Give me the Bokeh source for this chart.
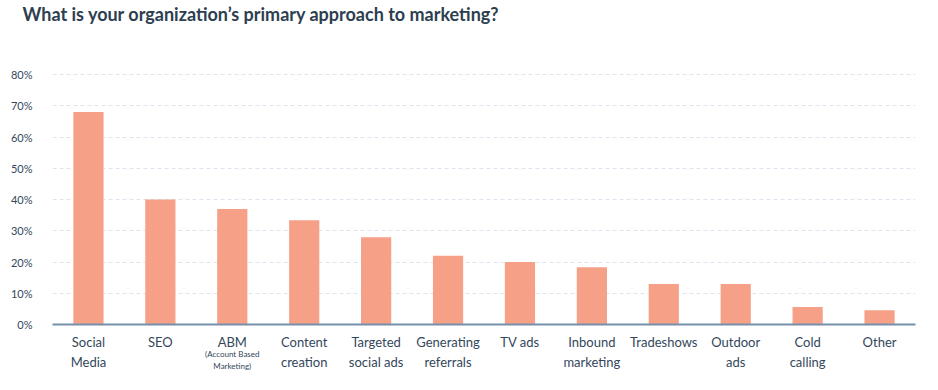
from bokeh.plotting import figure
from bokeh.models import (FixedTicker, NumeralTickFormatter, CategoricalAxis, ColumnDataSource,
                          FactorRange, CustomJSTickFormatter, Title)
from bokeh.embed import file_html
from bokeh.resources import INLINE

# ---- data ----
categories = ["Social\nMedia", "SEO", "ABM", "Content\ncreation", "Targeted\nsocial ads",
              "Generating\nreferrals", "TV ads", "Inbound\nmarketing", "Tradeshows",
              "Outdoor\nads", "Cold\ncalling", "Other"]
values = [0.68, 0.40, 0.37, 0.334, 0.279, 0.22, 0.20, 0.183, 0.13, 0.13, 0.056, 0.046]
y_ticks = [0, 0.1, 0.2, 0.3, 0.4, 0.5, 0.6, 0.7, 0.8]
notes = ["", "", "(Account Based\nMarketing)", "", "", "", "", "", "", "", "", ""]
title_text = "What is your organization\u2019s primary approach to marketing?"

FONT = "Lato"
TEXT = "#33475b"

src = ColumnDataSource(dict(cat=categories, val=values))

p = figure(width=922, height=374, x_range=FactorRange(*categories), y_range=(0, 0.81),
           output_backend="svg", toolbar_location=None, title=None,
           min_border_left=52, min_border_right=7, min_border_bottom=0, min_border_top=0)

# spacer between title and plot frame, then the title itself
p.add_layout(Title(text=" ", text_font_size="1px", standoff=44), "above")
p.add_layout(Title(text=title_text, text_font=FONT, text_font_size="18px", text_font_style="bold",
                   text_color="#2d3e50", offset=-30, standoff=0), "above")

p.vbar(x="cat", top="val", width=0.42, source=src, color="#f6a088", line_color=None)

p.outline_line_color = None
p.background_fill_color = "white"
p.border_fill_color = "white"

p.xgrid.grid_line_color = None
p.ygrid.grid_line_color = "#dfe5ee"
p.ygrid.grid_line_dash = "4 3"
p.ygrid.grid_line_width = 1

p.yaxis.ticker = FixedTicker(ticks=y_ticks)
p.yaxis.formatter = NumeralTickFormatter(format="0%")
p.yaxis.axis_line_color = None
p.yaxis.major_tick_line_color = None
p.yaxis.minor_tick_line_color = None
p.yaxis.major_label_text_font = FONT
p.yaxis.major_label_text_font_size = "11px"
p.yaxis.major_label_text_color = TEXT
p.yaxis.major_label_standoff = 14

p.xaxis.axis_line_color = "#7590ac"
p.xaxis.axis_line_width = 2
p.xaxis.major_tick_line_color = None
p.xaxis.minor_tick_line_color = None
p.xaxis.major_label_text_font = FONT
p.xaxis.major_label_text_font_size = "13px"
p.xaxis.major_label_text_color = TEXT
p.xaxis.major_label_standoff = 3
p.xaxis.major_label_text_line_height = 1.25

note_fmt = CustomJSTickFormatter(args=dict(cats=categories, notes=notes),
                                 code="const i = cats.indexOf(tick); return i >= 0 ? notes[i] : '';")
note_axis = CategoricalAxis(axis_line_color=None, major_tick_line_color=None,
                            minor_tick_line_color=None, major_label_text_font=FONT,
                            major_label_text_font_size="8px", major_label_text_color=TEXT,
                            major_label_standoff=-30, major_label_text_line_height=1.25,
                            formatter=note_fmt)
p.add_layout(note_axis, "below")

open("out.html", "w").write(file_html(p, INLINE))
